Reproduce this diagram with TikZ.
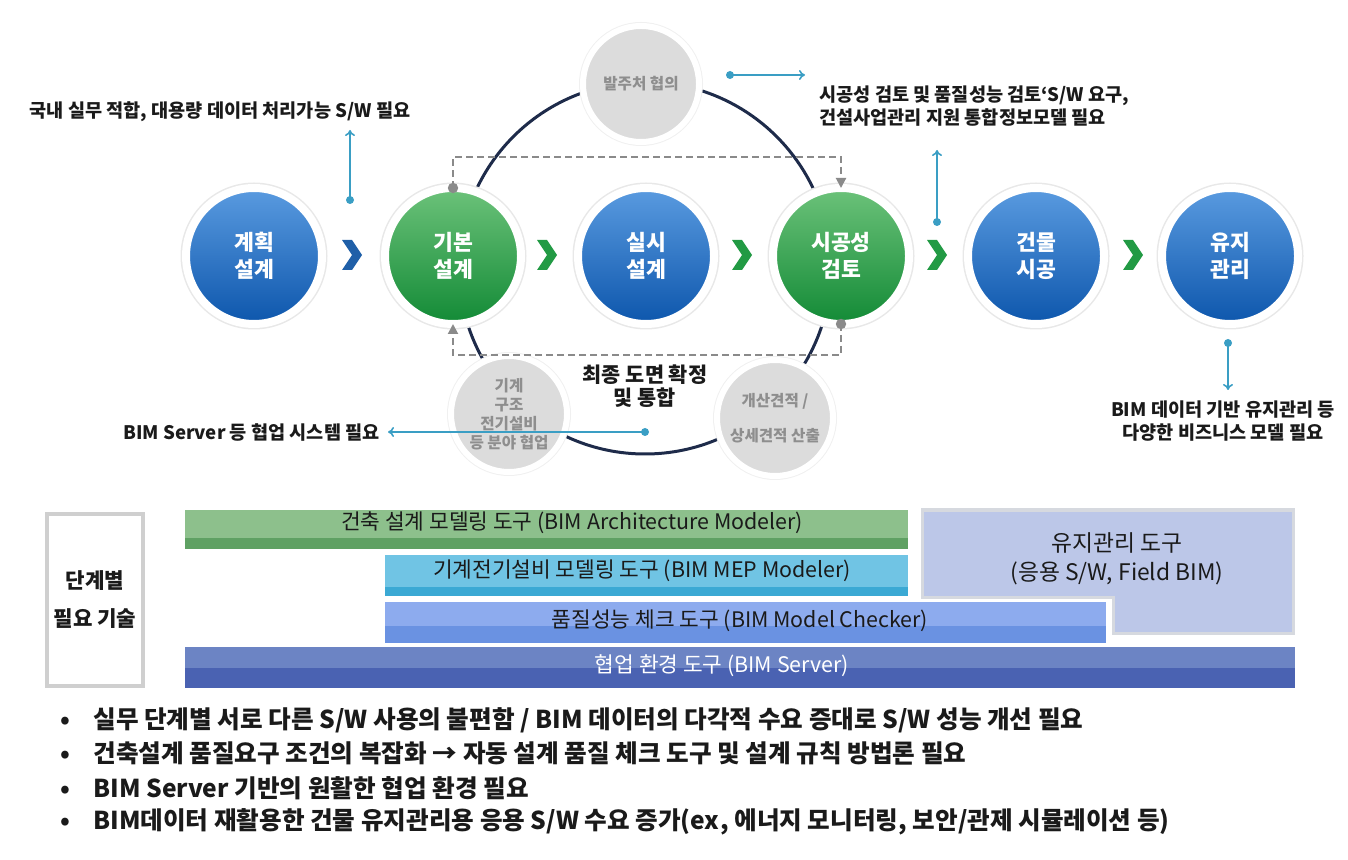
\documentclass[tikz,border=0pt]{standalone}
\usepackage{fontspec}
\setmainfont{Noto Sans CJK KR}
\usetikzlibrary{arrows.meta}

\definecolor{stageblueA}{HTML}{5A9BE0}
\definecolor{stageblueB}{HTML}{0D56AC}
\definecolor{stagegreenA}{HTML}{6CC27A}
\definecolor{stagegreenB}{HTML}{128A36}
\definecolor{chevblue}{HTML}{1F5FA8}
\definecolor{chevgreen}{HTML}{229A44}
\definecolor{loopnavy}{HTML}{1E2B4A}
\definecolor{notecyan}{HTML}{3A9EC4}
\definecolor{talkgray}{HTML}{DCDCDC}
\definecolor{talktext}{HTML}{8E8E8E}
\definecolor{linkgray}{HTML}{8A8A8A}
\definecolor{archA}{HTML}{8DC08C}
\definecolor{archB}{HTML}{5FA163}
\definecolor{mepA}{HTML}{70C4E4}
\definecolor{mepB}{HTML}{3BA9D4}
\definecolor{checkA}{HTML}{8DABEE}
\definecolor{checkB}{HTML}{6A92E2}
\definecolor{serverA}{HTML}{6C84C4}
\definecolor{serverB}{HTML}{4A62B2}
\definecolor{maintfill}{HTML}{BCC7E8}
\definecolor{maintedge}{HTML}{D6D9DF}
\definecolor{boxedge}{HTML}{CFCFCF}
\definecolor{inktext}{HTML}{1A1A1A}

\tikzset{
  stage/.style={circle, minimum size=68pt, inner sep=0pt, outer sep=0pt,
    draw=white, line width=4pt, preaction={draw=black!9, line width=5.5pt},
    text=white, align=center, font=\fontsize{10.8}{13.5}\selectfont\bfseries},
  bluestage/.style={stage, top color=stageblueA, bottom color=stageblueB},
  greenstage/.style={stage, top color=stagegreenA, bottom color=stagegreenB},
  talk/.style={circle, minimum size=58pt, inner sep=0pt, outer sep=0pt,
    fill=talkgray, draw=white, line width=3pt, preaction={draw=black!6, line width=4pt},
    text=talktext, align=center, font=\fontsize{7.8}{9.6}\selectfont\bfseries},
  note/.style={text=inktext, align=center, inner sep=1pt,
    font=\fontsize{9.3}{11.3}\selectfont\bfseries},
  noteline/.style={notecyan, line width=0.8pt, -{To[length=3pt,width=5pt]}},
  feedback/.style={linkgray, line width=1pt, dash pattern=on 3.5pt off 2pt,
    -{Triangle[length=5pt,width=5pt]}},
  bartext/.style={text=inktext, inner sep=0pt, font=\fontsize{10.7}{12}\selectfont},
  bulletline/.style={anchor=west, text=inktext, inner sep=0pt,
    font=\fontsize{12.3}{14}\selectfont\bfseries},
}

\begin{document}
\begin{tikzpicture}[x=0.5pt, y=-0.5pt]
\useasboundingbox (0,0) rectangle (1348,860);

% Design loop behind the stages
\draw[loopnavy, line width=1.5pt] (645,268) circle[radius=93pt];

% Side activities on the loop
\node[talk] (client) at (641,84) {발주처 협의};
\node[talk] (trades) at (509,414) {기계\\구조\\전기설비\\등 분야 협업};
\node[talk] (estimate) at (775,418) {개산견적 /\\[8pt]상세견적 산출};

% Project stages
\node[bluestage] (plan) at (254,256) {계획\\설계};
\node[greenstage] (basic) at (453,256) {기본\\설계};
\node[bluestage] (detail) at (646,256) {실시\\설계};
\node[greenstage] (review) at (841,256) {시공성\\검토};
\node[bluestage] (build) at (1036,256) {건물\\시공};
\node[bluestage] (maint) at (1230,256) {유지\\관리};

% Chevrons between stages
\fill[chevblue] (342,240) -- (352,240) -- (362,255) -- (352,270) -- (342,270) -- (352,255) -- cycle;
\fill[chevgreen] (537,240) -- (547,240) -- (557,255) -- (547,270) -- (537,270) -- (547,255) -- cycle;
\fill[chevgreen] (732,240) -- (742,240) -- (752,255) -- (742,270) -- (732,270) -- (742,255) -- cycle;
\fill[chevgreen] (927,240) -- (937,240) -- (947,255) -- (937,270) -- (927,270) -- (937,255) -- cycle;
\fill[chevgreen] (1123,240) -- (1133,240) -- (1143,255) -- (1133,270) -- (1123,270) -- (1133,255) -- cycle;

% Feedback between basic design and constructability review
\coordinate (fbtop) at (453,157);
\coordinate (fbbot) at (841,355);
\draw[feedback] (basic.north) -- (fbtop) -| (review.north);
\draw[feedback] (review.south) -- (fbbot) -| (basic.south);
\fill[linkgray] (basic.north) circle[radius=2.6pt];
\fill[linkgray] (review.south) circle[radius=2.6pt];

\node[text=inktext, align=center, font=\fontsize{10.4}{11.8}\selectfont\bfseries] (final) at (645,386) {최종 도면 확정\\및 통합};

% Requirement notes
\node[note] (note1) at (220,112) {국내 실무 적합, 대용량 데이터 처리가능 S/W 필요};
\node[note, align=left, anchor=west] (note2) at (817,106) {시공성 검토 및 품질성능 검토`S/W 요구,\\건설사업관리 지원 통합정보모델 필요};
\node[note, anchor=east] (note3) at (382,432) {BIM Server 등 협업 시스템 필요};
\node[note] (note4) at (1223,421) {BIM 데이터 기반 유지관리 등\\다양한 비즈니스 모델 필요};

\coordinate (n1a) at (350,200);
\coordinate (n1b) at (350,130);
\coordinate (n2a) at (730,75);
\coordinate (n2b) at (805,75);
\coordinate (n3a) at (937,222);
\coordinate (n3b) at (937,150);
\coordinate (n4a) at (645,432);
\coordinate (n5a) at (1228,343);
\coordinate (n5b) at (1228,390);
\draw[noteline] (n1a) -- (n1b);
\draw[noteline] (n2a) -- (n2b);
\draw[noteline] (n3a) -- (n3b);
\draw[noteline, shorten >=3pt] (n4a) -- (note3.east);
\draw[noteline] (n5a) -- (n5b);
\foreach \p in {n1a,n2a,n3a,n4a,n5a}
  \fill[notecyan] (\p) circle[radius=2pt];

% Required technologies per stage
\node[draw=boxedge, line width=2pt, fill=white, minimum width=45pt, minimum height=86pt,
  align=center, text=inktext, font=\fontsize{10.6}{19}\selectfont\bfseries] (need) at (95,600) {단계별\\필요 기술};

\filldraw[fill=maintfill, draw=maintedge, line width=1.5pt] (922,510) -- (1293,510) -- (1293,633)
  -- (1113,633) -- (1113,597) -- (922,597) -- cycle;
\node[bartext, align=center, font=\fontsize{11.4}{14.5}\selectfont] (maintool) at (1117,559) {유지관리 도구\\(응용 S/W, Field BIM)};

\fill[archA] (185,510) rectangle (908,538);
\fill[archB] (185,538) rectangle (908,549);
\node[bartext] (archtool) at (572,523) {건축 설계 모델링 도구 (BIM Architecture Modeler)};

\fill[mepA] (385,555) rectangle (908,587);
\fill[mepB] (385,587) rectangle (908,596);
\node[bartext] (meptool) at (642,571) {기계전기설비 모델링 도구 (BIM MEP Modeler)};

\fill[checkA] (385,602) rectangle (1106,626);
\fill[checkB] (385,626) rectangle (1106,643);
\node[bartext] (checktool) at (740,621) {품질성능 체크 도구 (BIM Model Checker)};

\fill[serverA] (185,647) rectangle (1295,668);
\fill[serverB] (185,668) rectangle (1295,688);
\node[bartext, text=white] (servertool) at (722,666) {협업 환경 도구 (BIM Server)};

% Summary bullets
\node[bulletline] (b1) at (60,720) {\makebox[16.5pt][l]{•}실무 단계별 서로 다른 S/W 사용의 불편함 / BIM 데이터의 다각적 수요 증대로 S/W 성능 개선 필요};
\node[bulletline] (b2) at (60,753) {\makebox[16.5pt][l]{•}건축설계 품질요구 조건의 복잡화 → 자동 설계 품질 체크 도구 및 설계 규칙 방법론 필요};
\node[bulletline] (b3) at (60,788) {\makebox[16.5pt][l]{•}BIM Server 기반의 원활한 협업 환경 필요};
\node[bulletline] (b4) at (60,822) {\makebox[16.5pt][l]{•}BIM데이터 재활용한 건물 유지관리용 응용 S/W 수요 증가(ex, 에너지 모니터링, 보안/관제 시뮬레이션 등)};
\end{tikzpicture}
\end{document}
